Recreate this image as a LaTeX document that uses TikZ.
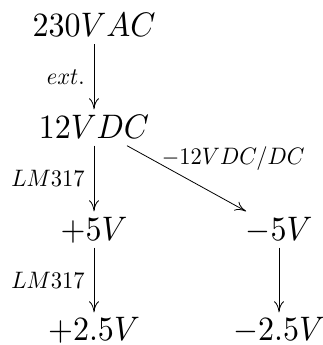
\documentclass[tikz,border=0pt]{standalone}
\usetikzlibrary{arrows.meta}
\newcommand{\objmath}[1]{\scalebox{3.2}[3.4]{$#1$}}
\newcommand{\lblmath}[1]{\scalebox{2.25}[2.38]{$#1$}}
\begin{document}
\begin{tikzpicture}[x=1pt,y=1pt,
  obj/.style={anchor=base, inner xsep=5pt, inner ysep=7pt, text height=22pt, text depth=0pt},
  objlow/.style={obj, inner ysep=2pt, text height=26pt},
  lbl/.style={inner sep=0pt},
  arr/.style={line width=0.8pt, -{To[length=11pt,width=10pt]}}]
\useasboundingbox (0,0) rectangle (323,345);
\node[obj] (ac)  at (94,308)   {\objmath{230V AC}};
\node[obj] (dc)  at (94,206.5) {\objmath{12V DC}};
\node[obj] (p5)  at (94,104.5) {\objmath{+5V}};
\node[obj] (m5)  at (279,104.5) {\objmath{-5V}};
\node[objlow] (p25) at (94,4.5)   {\objmath{+2.5V}};
\node[objlow] (m25) at (279,4.5)  {\objmath{-2.5V}};
\draw[arr] (ac) -- node[lbl, left=9pt] {\lblmath{ext.}} (dc);
\draw[arr] (dc) -- node[lbl, left=9pt] {\lblmath{LM317}} (p5);
\draw[arr] (p5) -- node[lbl, left=9pt] {\lblmath{LM317}} (p25);
\draw[arr] (dc) -- node[lbl, pos=0.29, anchor=base west] {\lblmath{-12V DC/DC}} (m5);
\draw[arr] (m5) -- (m25);
\end{tikzpicture}
\end{document}
